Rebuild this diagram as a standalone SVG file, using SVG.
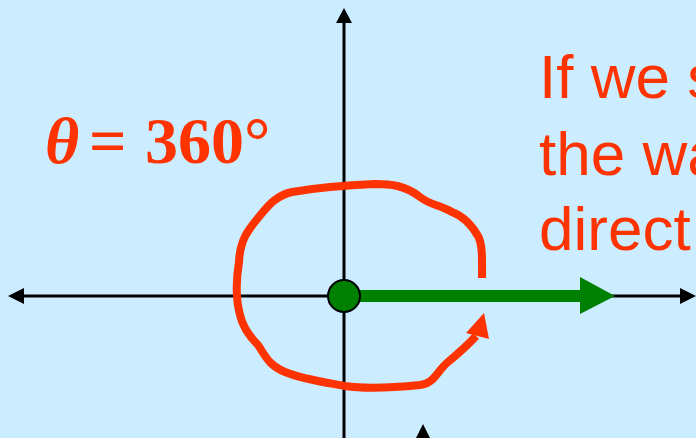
<svg xmlns="http://www.w3.org/2000/svg" width="696" height="438" viewBox="0 0 696 438">
<defs>
<style>
.axis{stroke:#000;stroke-width:3;fill:none}
.ah{fill:#000}
.red{fill:#FF3300}
.serif{font-family:"Liberation Serif","Times New Roman",serif;font-weight:bold;font-size:66px}
.sans{font-family:"Liberation Sans",Arial,sans-serif;font-size:62px}
</style>
</defs>
<rect width="696" height="438" fill="#CCECFF"/>
<g id="connectors">
<line class="axis" x1="20" y1="296" x2="686" y2="296"/>
<line class="axis" x1="344" y1="20" x2="344" y2="438"/>
<polygon class="ah" points="8,296 24,288 24,304"/>
<polygon class="ah" points="696,296 680,288 680,304"/>
<polygon class="ah" points="344,8 336,23 352,23"/>
<polygon class="ah" points="423,424 415,440 431,440"/>
<path d="M482,278 C482,262 483,245 478,236 C470,222 460,215 452,212 C440,205 430,205 420,197 C405,185 390,184 375,184 C350,185 315,188 292,192 C275,196 268,206 258,218 C248,230 240,240 239,262 C236,280 236,300 240,315 C243,328 250,337 258,345 C265,355 268,365 285,372 C305,380 330,383 345,386 C365,389 390,388 420,385 C435,383 436,372 448,362 C460,352 468,345 476,336" fill="none" stroke="#FF3300" stroke-width="8" stroke-linejoin="round" stroke-linecap="butt"/>
<polygon class="red" points="484,313 466,333 489,339"/>
<line x1="344" y1="296" x2="582" y2="296" stroke="#008000" stroke-width="12"/>
<polygon points="615,296 580,277 580,314" fill="#008000"/>
</g>
<g id="origin">
<circle cx="344" cy="296" r="16" fill="#008000" stroke="#000" stroke-width="2"/>
</g>
<g id="label-theta">
<text class="serif red" x="45" y="163" font-style="italic">θ</text>
<text class="serif red" x="89" y="163">=</text>
<text class="serif red" x="145" y="163">360°</text>
</g>
<g id="label-text">
<text class="sans red" x="539" y="98">If we s</text>
<text class="sans red" x="539" y="175">the wa</text>
<text class="sans red" x="539" y="250">direct</text>
</g>
</svg>
